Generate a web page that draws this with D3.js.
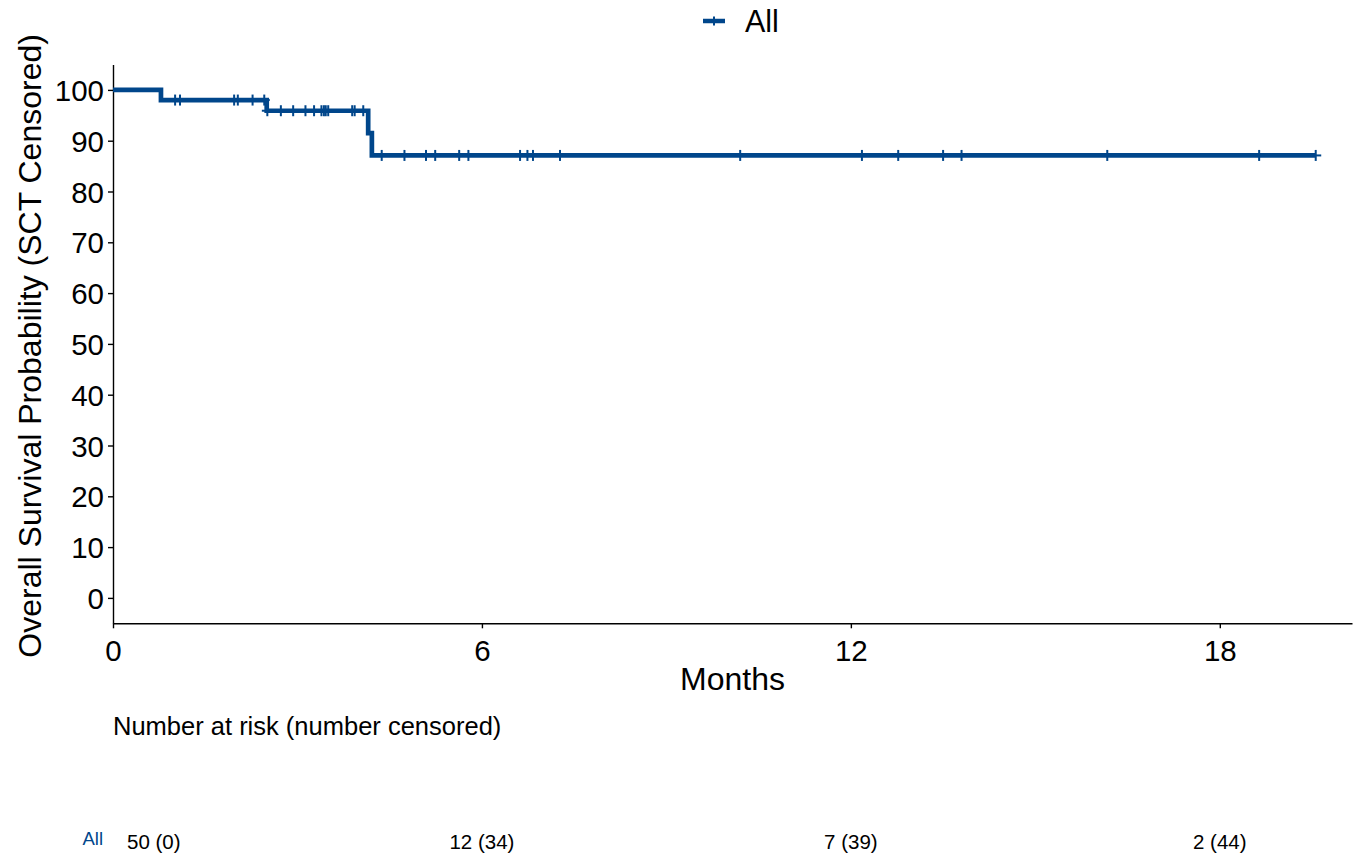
<!DOCTYPE html>
<html>
<head>
<meta charset="utf-8">
<script src="https://cdn.jsdelivr.net/npm/d3@7"></script>
<style>
  html, body { margin: 0; padding: 0; background: #fff; }
  svg { display: block; font-family: "Liberation Sans", Arial, sans-serif; }
</style>
</head>
<body>
<svg id="chart" width="1363" height="861"></svg>
<script>
// Kaplan–Meier estimate, all patients (months, survival %)
const stepTimes = [0, 0.78, 2.50, 4.15, 4.21, 19.56];
const stepSurv  = [100, 98.0, 95.9, 91.5, 87.1, 87.1];

// Censoring times (months)
const censorTimes = [
  1.01, 1.09, 1.97, 2.03, 2.27, 2.46, 2.51, 2.73, 2.93, 3.13, 3.27,
  3.39, 3.43, 3.46, 3.50, 3.89, 3.93, 4.07, 4.37, 4.74, 5.09, 5.24,
  5.63, 5.78, 6.62, 6.74, 6.83, 7.27, 10.20, 12.18, 12.77, 13.50,
  13.80, 16.17, 18.64, 19.56
];

// Risk table
const riskTimes = [0, 6, 12, 18];
const atRisk    = [50, 12, 7, 2];
const nCensored = [0, 34, 39, 44];

const xTicks = [0, 6, 12, 18];
const yTicks = d3.range(0, 101, 10);

const groupName = "All";
const color = "#00468B";

const svg = d3.select("#chart");

const x = d3.scaleLinear().domain([0, 20.15]).range([113, 1352]);
const y = d3.scaleLinear().domain([-5, 105]).range([623.3, 64.5]);

// survival at time t (right-continuous step)
function survAt(t) {
  let s = stepSurv[0];
  for (let i = 0; i < stepTimes.length; i++) if (stepTimes[i] <= t) s = stepSurv[i];
  return s;
}

// Axes
const xAxis = svg.append("g")
  .attr("transform", `translate(0,${y.range()[0]})`)
  .call(d3.axisBottom(x).tickValues(xTicks).tickSize(5).tickPadding(5).tickSizeOuter(0));
const yAxis = svg.append("g")
  .attr("transform", `translate(${x.range()[0]},0)`)
  .call(d3.axisLeft(y).tickValues(yTicks).tickSize(5).tickPadding(4).tickSizeOuter(0));

[xAxis, yAxis].forEach(g => {
  g.select(".domain").attr("stroke", "#000").attr("stroke-width", 1.4);
  g.selectAll(".tick line").attr("stroke", "#000").attr("stroke-width", 1.4);
  g.selectAll(".tick text").attr("fill", "#000").style("font-size", "29.5px")
    .style("font-family", "'Liberation Sans', Arial, sans-serif");
});
xAxis.selectAll(".tick text").attr("dy", "0.93em");
yAxis.selectAll(".tick text").attr("dy", "0.36em");

// Axis titles
svg.append("text")
  .attr("x", (x.range()[0] + x.range()[1]) / 2)
  .attr("y", 690)
  .attr("text-anchor", "middle")
  .style("font-size", "32px")
  .text("Months");

svg.append("text")
  .attr("transform", `translate(40.5,${(y.range()[0] + y.range()[1]) / 2 + 2}) rotate(-90)`)
  .attr("text-anchor", "middle")
  .style("font-size", "32px")
  .text("Overall Survival Probability (SCT Censored)");

// Survival curve
const pts = stepTimes.map((t, i) => [t, stepSurv[i]]);
svg.append("path")
  .datum(pts)
  .attr("fill", "none")
  .attr("stroke", color)
  .attr("stroke-width", 4.7)
  .attr("d", d3.line().x(d => x(d[0])).y(d => y(d[1])).curve(d3.curveStepAfter));

// Censor marks
const half = 5.5;
const marks = svg.append("g").attr("stroke", color).attr("stroke-width", 2);
censorTimes.forEach(t => {
  const cx = x(t), cy = y(survAt(t));
  marks.append("line").attr("x1", cx).attr("x2", cx).attr("y1", cy - half).attr("y2", cy + half);
  marks.append("line").attr("x1", cx - half).attr("x2", cx + half).attr("y1", cy).attr("y2", cy);
});

// Legend
const lg = svg.append("g").attr("transform", "translate(703,21)");
lg.append("line").attr("x1", 0).attr("x2", 22).attr("y1", 0).attr("y2", 0)
  .attr("stroke", color).attr("stroke-width", 4.5);
lg.append("line").attr("x1", 11).attr("x2", 11).attr("y1", -4.5).attr("y2", 4.5)
  .attr("stroke", color).attr("stroke-width", 2);
lg.append("text").attr("x", 42).attr("y", 10.5).style("font-size", "30.5px").text(groupName);

// Risk table
svg.append("text")
  .attr("x", x(0))
  .attr("y", 735)
  .style("font-size", "25.5px")
  .text("Number at risk (number censored)");

svg.append("text")
  .attr("x", 103).attr("y", 845)
  .attr("text-anchor", "end")
  .attr("fill", color)
  .style("font-size", "18.5px")
  .text(groupName);

riskTimes.forEach((t, i) => {
  svg.append("text")
    .attr("x", i === 0 ? x(t) + 14 : x(t))
    .attr("y", 849)
    .attr("text-anchor", i === 0 ? "start" : "middle")
    .style("font-size", "20.5px")
    .text(`${atRisk[i]} (${nCensored[i]})`);
});
</script>
</body>
</html>
